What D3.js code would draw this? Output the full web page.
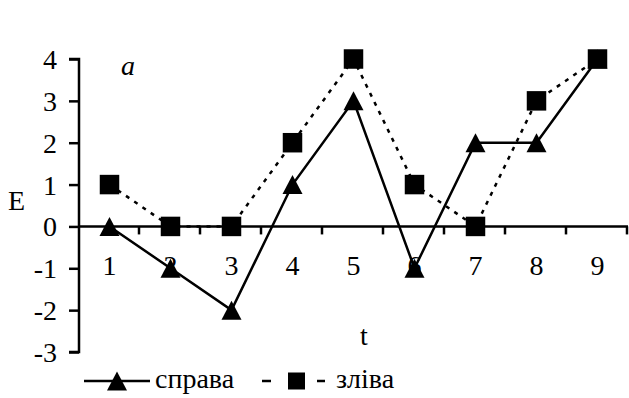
<!DOCTYPE html>
<html>
<head>
<meta charset="utf-8">
<script src="https://cdn.jsdelivr.net/npm/d3@7"></script>
<style>
  body { margin: 0; background: #fff; }
  svg text { font-family: "Liberation Serif", "Times New Roman", serif; font-size: 28px; fill: #000; }
</style>
</head>
<body>
<div id="chart"></div>
<script>
var categories = ["1", "2", "3", "4", "5", "6", "7", "8", "9"];
var sprava = [0, -1, -2, 1, 3, -1, 2, 2, 4];
var zliva = [1, 0, 0, 2, 4, 1, 0, 3, 4];
var yTicks = [-3, -2, -1, 0, 1, 2, 3, 4];

var width = 629, height = 398;

var svg = d3.select("#chart").append("svg")
    .attr("width", width).attr("height", height);

var x = d3.scaleBand().domain(categories).range([79, 628]);
var y = d3.scaleLinear().domain([-3, 4]).range([352, 59]);

// y axis
var yAxis = d3.axisLeft(y).tickValues(yTicks).tickSize(10).tickPadding(12)
    .tickFormat(function(d){ return d; });
var gy = svg.append("g").attr("transform", "translate(79,0)").call(yAxis);
gy.select(".domain").attr("d", "M-10," + y(4) + "H0V" + y(-3) + "H-10")
    .attr("stroke", "#000").attr("stroke-width", 2.5).attr("fill", "none");
gy.selectAll(".tick line").attr("stroke-width", 2.5);
gy.selectAll(".tick text").attr("dy", "0.34em");

// x axis on zero line
var gx = svg.append("g").attr("transform", "translate(0," + y(0) + ")");
gx.append("line").attr("x1", 79).attr("x2", 628).attr("y1", 0).attr("y2", 0)
    .attr("stroke", "#000").attr("stroke-width", 2.5);
var bounds = categories.map(function(c){ return x(c) + x.bandwidth(); });
gx.selectAll(".xt").data(bounds).enter().append("line")
    .attr("x1", function(d){ return d - 1; }).attr("x2", function(d){ return d - 1; })
    .attr("y1", 0).attr("y2", 8).attr("stroke", "#000").attr("stroke-width", 2.5);
gx.selectAll(".xl").data(categories).enter().append("text")
    .text(function(d){ return d; })
    .attr("x", function(d){ return x(d) + x.bandwidth() / 2; })
    .attr("y", 49).attr("text-anchor", "middle");

var cx = function(d, i){ return x(categories[i]) + x.bandwidth() / 2; };

// lines
var line = d3.line().x(cx).y(function(d){ return y(d); });
svg.append("path").datum(zliva).attr("d", line)
    .attr("fill", "none").attr("stroke", "#000").attr("stroke-width", 2.5)
    .attr("stroke-dasharray", "4,6");

svg.append("path").datum(sprava).attr("d", line)
    .attr("fill", "none").attr("stroke", "#000").attr("stroke-width", 2.5);

// triangle centred on its box
var triType = {
  draw: function(ctx, size) {
    var w = Math.sqrt(size), h = w * 0.95;
    ctx.moveTo(0, -h / 2);
    ctx.lineTo(w / 2, h / 2);
    ctx.lineTo(-w / 2, h / 2);
    ctx.closePath();
  }
};
var tri = d3.symbol().type(triType).size(400);
var sq = d3.symbol().type(d3.symbolSquare).size(380);

svg.selectAll(".sq").data(zliva).enter().append("path")
    .attr("d", sq)
    .attr("transform", function(d, i){ return "translate(" + cx(d, i) + "," + y(d) + ")"; })
    .attr("fill", "#000");

svg.selectAll(".tri").data(sprava).enter().append("path")
    .attr("d", tri)
    .attr("transform", function(d, i){ return "translate(" + cx(d, i) + "," + y(d) + ")"; })
    .attr("fill", "#000");

// labels
svg.append("text").text("E").attr("x", 8).attr("y", 210);
svg.append("text").text("a").attr("x", 121).attr("y", 75).style("font-style", "italic");
svg.append("text").text("t").attr("x", 360).attr("y", 345);

// legend
var lg = svg.append("g").attr("transform", "translate(0,381)");
lg.append("line").attr("x1", 84).attr("x2", 150).attr("y1", 0).attr("y2", 0)
    .attr("stroke", "#000").attr("stroke-width", 2.5);
lg.append("path").attr("d", tri).attr("transform", "translate(117,0)").attr("fill", "#000");
lg.append("text").text("справа").attr("x", 155).attr("y", 7);
lg.append("line").attr("x1", 262).attr("x2", 271).attr("y1", 0).attr("y2", 0)
    .attr("stroke", "#000").attr("stroke-width", 2.5);
lg.append("rect").attr("x", 288).attr("y", -8.5).attr("width", 17).attr("height", 17).attr("fill", "#000");
lg.append("line").attr("x1", 317).attr("x2", 325).attr("y1", 0).attr("y2", 0)
    .attr("stroke", "#000").attr("stroke-width", 2.5);
lg.append("text").text("зліва").attr("x", 336).attr("y", 7);
</script>
</body>
</html>
